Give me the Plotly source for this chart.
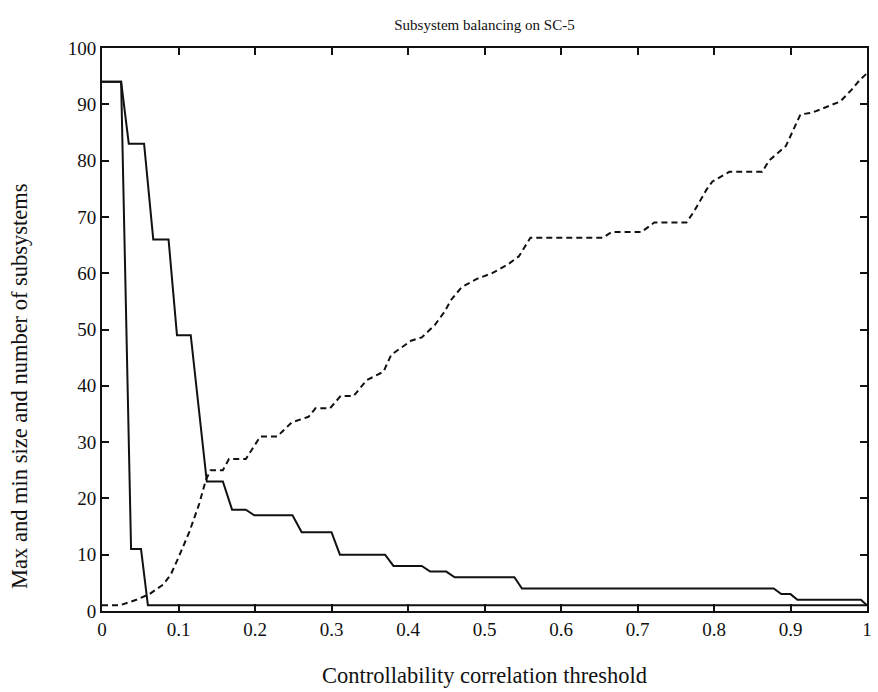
import plotly.graph_objects as go

# ---- data ----
max_x = [0, 0.025, 0.035, 0.055, 0.067, 0.087, 0.098, 0.116, 0.137, 0.158, 0.170, 0.188,
         0.199, 0.249, 0.261, 0.300, 0.311, 0.370, 0.381, 0.418, 0.429, 0.450, 0.461,
         0.539, 0.549, 0.878, 0.888, 0.900, 0.909, 0.992, 1.0]
max_y = [94, 94, 83, 83, 66, 66, 49, 49, 23, 23, 18, 18,
         17, 17, 14, 14, 10, 10, 8, 8, 7, 7, 6,
         6, 4, 4, 3, 3, 2, 2, 1]

min_x = [0, 0.025, 0.038, 0.051, 0.060, 1.0]
min_y = [94, 94, 11, 11, 1, 1]

num_x = [0, 0.023, 0.045, 0.062, 0.080, 0.090, 0.100, 0.114, 0.127, 0.136, 0.142, 0.158,
         0.166, 0.188, 0.207, 0.229, 0.248, 0.270, 0.279, 0.298, 0.312, 0.329, 0.346,
         0.368, 0.378, 0.404, 0.418, 0.435, 0.448, 0.456, 0.470, 0.490, 0.510, 0.530,
         0.545, 0.560, 0.595, 0.655, 0.666, 0.705, 0.722, 0.764, 0.774, 0.790, 0.798,
         0.820, 0.863, 0.872, 0.894, 0.913, 0.928, 0.965, 0.980, 0.991, 1.0]
num_y = [1, 1, 2, 3, 4.7, 6.5, 9.5, 14, 19, 23.4, 25, 25,
         27, 27, 31, 31, 33.5, 34.5, 36, 36, 38.2, 38.2, 41,
         42.5, 45.5, 48, 48.6, 50.8, 53.2, 55.2, 57.5, 59, 60, 61.5,
         63, 66.3, 66.3, 66.3, 67.3, 67.3, 69, 69, 71, 74.8, 76.3,
         78, 78, 80, 82.6, 88.2, 88.5, 90.5, 92.6, 94.4, 95.5]

x_ticks = [0, 0.1, 0.2, 0.3, 0.4, 0.5, 0.6, 0.7, 0.8, 0.9, 1]
x_tick_labels = ["0", "0.1", "0.2", "0.3", "0.4", "0.5", "0.6", "0.7", "0.8", "0.9", "1"]
y_ticks = [0, 10, 20, 30, 40, 50, 60, 70, 80, 90, 100]
y_tick_labels = [str(v) for v in y_ticks]

title_text = "Subsystem balancing on SC-5"
x_title = "Controllability correlation threshold"
y_title = "Max and min size and number of subsystems"

FONT = "Liberation Serif, Times New Roman, serif"
INK = "#111111"

fig = go.Figure()
fig.add_trace(go.Scatter(x=max_x, y=max_y, mode="lines",
                         line=dict(color=INK, width=2), showlegend=False))
fig.add_trace(go.Scatter(x=min_x, y=min_y, mode="lines",
                         line=dict(color=INK, width=2), showlegend=False))
fig.add_trace(go.Scatter(x=num_x, y=num_y, mode="lines",
                         line=dict(color=INK, width=2, dash="6px,4px"), showlegend=False))

axis_common = dict(showgrid=False, zeroline=False, showline=True, linecolor=INK,
                   linewidth=2, mirror="ticks", ticks="inside", ticklen=7,
                   tickwidth=1.5, tickcolor=INK,
                   tickfont=dict(family=FONT, size=19, color=INK))

fig.update_xaxes(range=[0, 1], tickvals=x_ticks, ticktext=x_tick_labels, **axis_common)
fig.update_yaxes(range=[0, 100], tickvals=y_ticks, ticktext=y_tick_labels, **axis_common)

fig.update_layout(
    width=878, height=692,
    margin=dict(l=102, r=6, t=48, b=81),
    paper_bgcolor="white", plot_bgcolor="white",
    font=dict(family=FONT, color=INK),
    title=dict(text=title_text, x=0.5, xref="paper", y=1 - 25 / 692, yanchor="middle",
               font=dict(family=FONT, size=15, color=INK)),
    annotations=[
        dict(text=x_title, xref="paper", yref="paper", x=0.5, y=-0.115,
             xanchor="center", yanchor="middle", showarrow=False,
             font=dict(family=FONT, size=22.5, color=INK)),
        dict(text=y_title, xref="paper", yref="paper", x=-0.107, y=0.40,
             xanchor="center", yanchor="middle", textangle=-90, showarrow=False,
             font=dict(family=FONT, size=22.5, color=INK)),
    ],
)

fig.write_html("out.html")
